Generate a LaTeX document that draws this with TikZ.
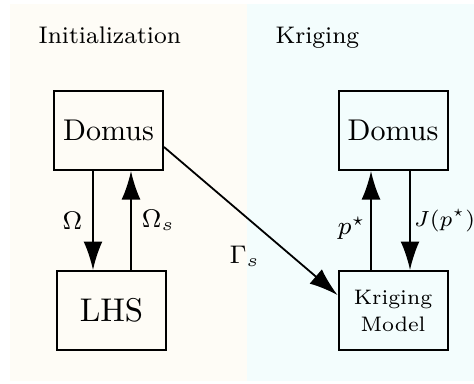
\documentclass[tikz,border=0pt]{standalone}
\usepackage{amsmath}
\usepackage{fix-cm}
\usepackage{tikz}
\usetikzlibrary{arrows.meta}

\begin{document}
\begin{tikzpicture}[x=0.3333pt,y=-0.3333pt,
  block/.style={draw,line width=0.67pt,minimum width=36.33pt,minimum height=26.33pt,inner sep=0pt},
  flow/.style={-{Latex[length=9.5pt,width=6.3pt]},line width=0.6pt},
  lbl/.style={font=\fontsize{8.5}{10}\selectfont},
  title/.style={anchor=base west,inner sep=0pt,font=\fontsize{8}{10}\selectfont}]
\definecolor{initbg}{RGB}{254,252,246}
\definecolor{krigbg}{RGB}{243,253,253}
\useasboundingbox (0,0) rectangle (474,383);
% Backgrounds
\fill[initbg] (10,4) rectangle (247,381);
\fill[krigbg] (247,4) rectangle (474,381);
\node[title] (tinit) at (38,43) {Initialization};
\node[title] (tkrig) at (275,43) {Kriging};
% Blocks
\node[block,font=\fontsize{10}{12}\selectfont] (domusA) at (108.5,130.5) {Domus};
\node[block,font=\fontsize{10.95}{13}\selectfont] (lhs) at (111.5,310.5) {LHS};
\node[block,font=\fontsize{10}{12}\selectfont] (domusB) at (393,130.5) {Domus};
\node[block,align=center,font=\fontsize{7}{9}\selectfont] (kmodel) at (393,310.5) {Kriging\\Model};
% Arrows
\draw[flow] ([xshift=-5.17pt]domusA.south) -- node[lbl,left]{$\Omega$} ([xshift=-6.17pt]lhs.north);
\draw[flow] ([xshift=6.5pt]lhs.north) -- node[lbl,right]{$\Omega_s$} ([xshift=7.5pt]domusA.south);
\draw[flow] ([yshift=-5.5pt]domusA.east) -- node[lbl,midway,below=4.67pt,xshift=-2pt]{$\Gamma_s$} ([yshift=5.17pt]kmodel.west);
\draw[flow] ([xshift=-7.33pt]kmodel.north) -- node[lbl,left,inner sep=1.33pt,yshift=-2.67pt]{$p^\star$} ([xshift=-7.33pt]domusB.south);
\draw[flow] ([xshift=5.67pt]domusB.south) -- node[lbl,right,inner sep=1pt,font=\fontsize{7.3}{9}\selectfont]{$J(p^\star)$} ([xshift=5.67pt]kmodel.north);
\end{tikzpicture}
\end{document}
